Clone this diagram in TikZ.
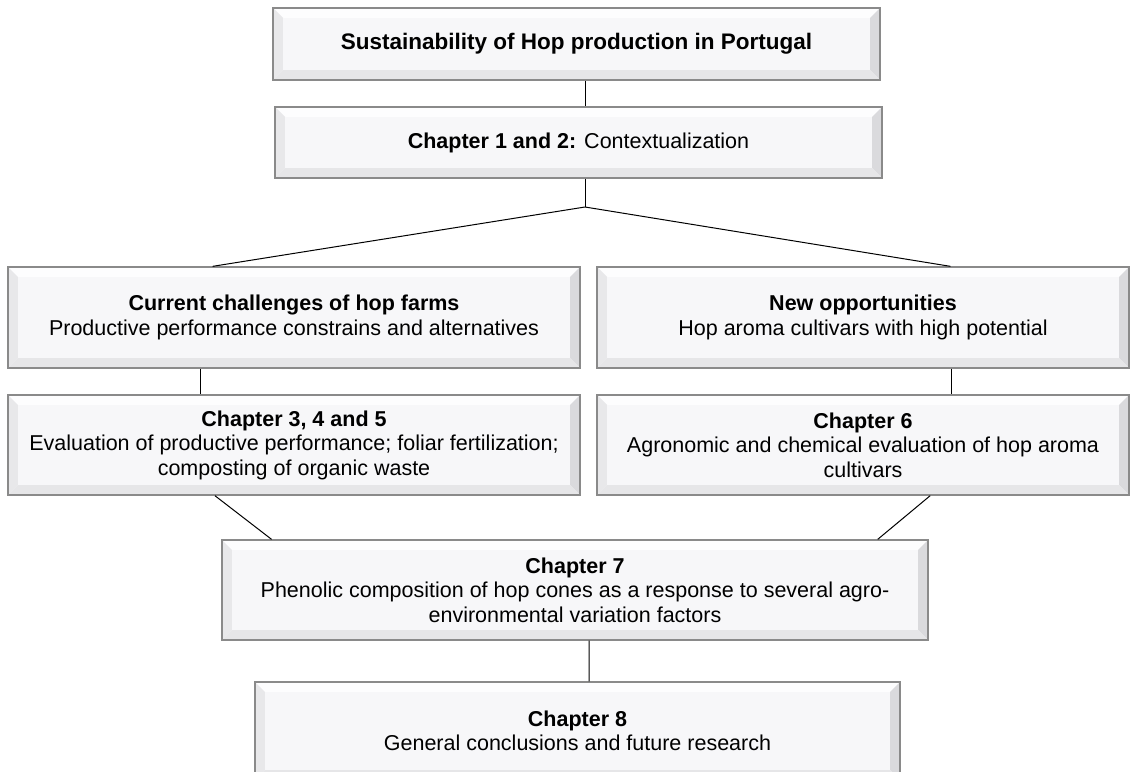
\documentclass[tikz,border=0pt]{standalone}
\usepackage{fontspec}
\setmainfont{Liberation Sans}
\usetikzlibrary{calc}
\definecolor{boxedge}{HTML}{8A8A8A}
\definecolor{facecol}{HTML}{F7F7F9}
\definecolor{bevtop}{HTML}{FDFDFE}
\definecolor{bevleft}{HTML}{E8E8EA}
\definecolor{bevright}{HTML}{DADADD}
\definecolor{bevbottom}{HTML}{E6E6E8}
\newcommand\boxfont{\fontsize{21.5}{24.5}\selectfont}
\tikzset{
  bevelbox/.style={
    draw=boxedge, line width=1.3pt, inner sep=0pt, align=center, font=\boxfont,
    path picture={
      \coordinate (bsw) at (path picture bounding box.south west);
      \coordinate (bne) at (path picture bounding box.north east);
      \coordinate (bnw) at (bsw|-bne);
      \coordinate (bse) at (bne|-bsw);
      \fill[facecol] (bsw) rectangle (bne);
      \fill[bevtop] (bnw) -- (bne) -- ($(bne)+(-10pt,-10pt)$) -- ($(bnw)+(10pt,-10pt)$) -- cycle;
      \fill[bevleft] (bnw) -- (bsw) -- ($(bsw)+(10pt,10pt)$) -- ($(bnw)+(10pt,-10pt)$) -- cycle;
      \fill[bevright] (bne) -- (bse) -- ($(bse)+(-10pt,10pt)$) -- ($(bne)+(-10pt,-10pt)$) -- cycle;
      \fill[bevbottom] (bsw) -- (bse) -- ($(bse)+(-10pt,10pt)$) -- ($(bsw)+(10pt,10pt)$) -- cycle;
      \fill[facecol] ($(bsw)+(10pt,10pt)$) rectangle ($(bne)+(-10pt,-10pt)$);
    }},
  link/.style={draw=black, line width=1pt}
}
\begin{document}
\begin{tikzpicture}[x=1pt,y=-1pt]
\useasboundingbox (0,0) rectangle (1135,771);
\clip (0,0) rectangle (1135,771);

% boxes
\node[bevelbox, minimum width=607pt, minimum height=72pt, font=\fontsize{22.5}{26}\selectfont] (title) at (576.5,44)
  {\textbf{Sustainability of Hop production in Portugal}};
\node[bevelbox, minimum width=607pt, minimum height=71pt] (ctx) at (578.5,142.5)
  {\textbf{Chapter 1 and 2:} Contextualization};
\node[bevelbox, minimum width=572pt, minimum height=101pt] (chal) at (294,317.5)
  {\textbf{Current challenges of hop farms}\\Productive performance constrains and alternatives};
\node[bevelbox, minimum width=532pt, minimum height=101pt] (opp) at (863,317.5)
  {\textbf{New opportunities}\\Hop aroma cultivars with high potential};
\node[bevelbox, minimum width=572pt, minimum height=100pt] (chA) at (294,445)
  {\textbf{Chapter 3, 4 and 5}\\Evaluation of productive performance; foliar fertilization;\\composting of organic waste};
\node[bevelbox, minimum width=532pt, minimum height=100pt] (chB) at (863,445)
  {\textbf{Chapter 6}\\Agronomic and chemical evaluation of hop aroma\\cultivars};
\node[bevelbox, minimum width=706pt, minimum height=100pt] (chC) at (575,590)
  {\textbf{Chapter 7}\\Phenolic composition of hop cones as a response to several agro-\\environmental variation factors};
\node[bevelbox, minimum width=645pt, minimum height=98pt] (chD) at (577.5,731)
  {\textbf{Chapter 8}\\General conclusions and future research};

% connectors
\coordinate (split) at (585,207);
\draw[link] (title.south -| split) -- (ctx.north -| split);
\draw[link] (ctx.south -| split) -- (split);
\draw[link] (split) -- ($(chal.north west)!0.358!(chal.north east)$);
\draw[link] (split) -- ($(opp.north west)!0.664!(opp.north east)$);
\draw[link] ($(chal.south west)!0.337!(chal.south east)$) -- ($(chA.north west)!0.337!(chA.north east)$);
\draw[link] ($(opp.south west)!0.665!(opp.south east)$) -- ($(chB.north west)!0.665!(chB.north east)$);
\draw[link] ($(chA.south west)!0.362!(chA.south east)$) -- ($(chC.north west)!0.071!(chC.north east)$);
\draw[link] ($(chB.south west)!0.626!(chB.south east)$) -- ($(chC.north west)!0.928!(chC.north east)$);
\draw[link] ($(chC.south west)!0.520!(chC.south east)$) -- ($(chD.north west)!0.518!(chD.north east)$);
\end{tikzpicture}
\end{document}
